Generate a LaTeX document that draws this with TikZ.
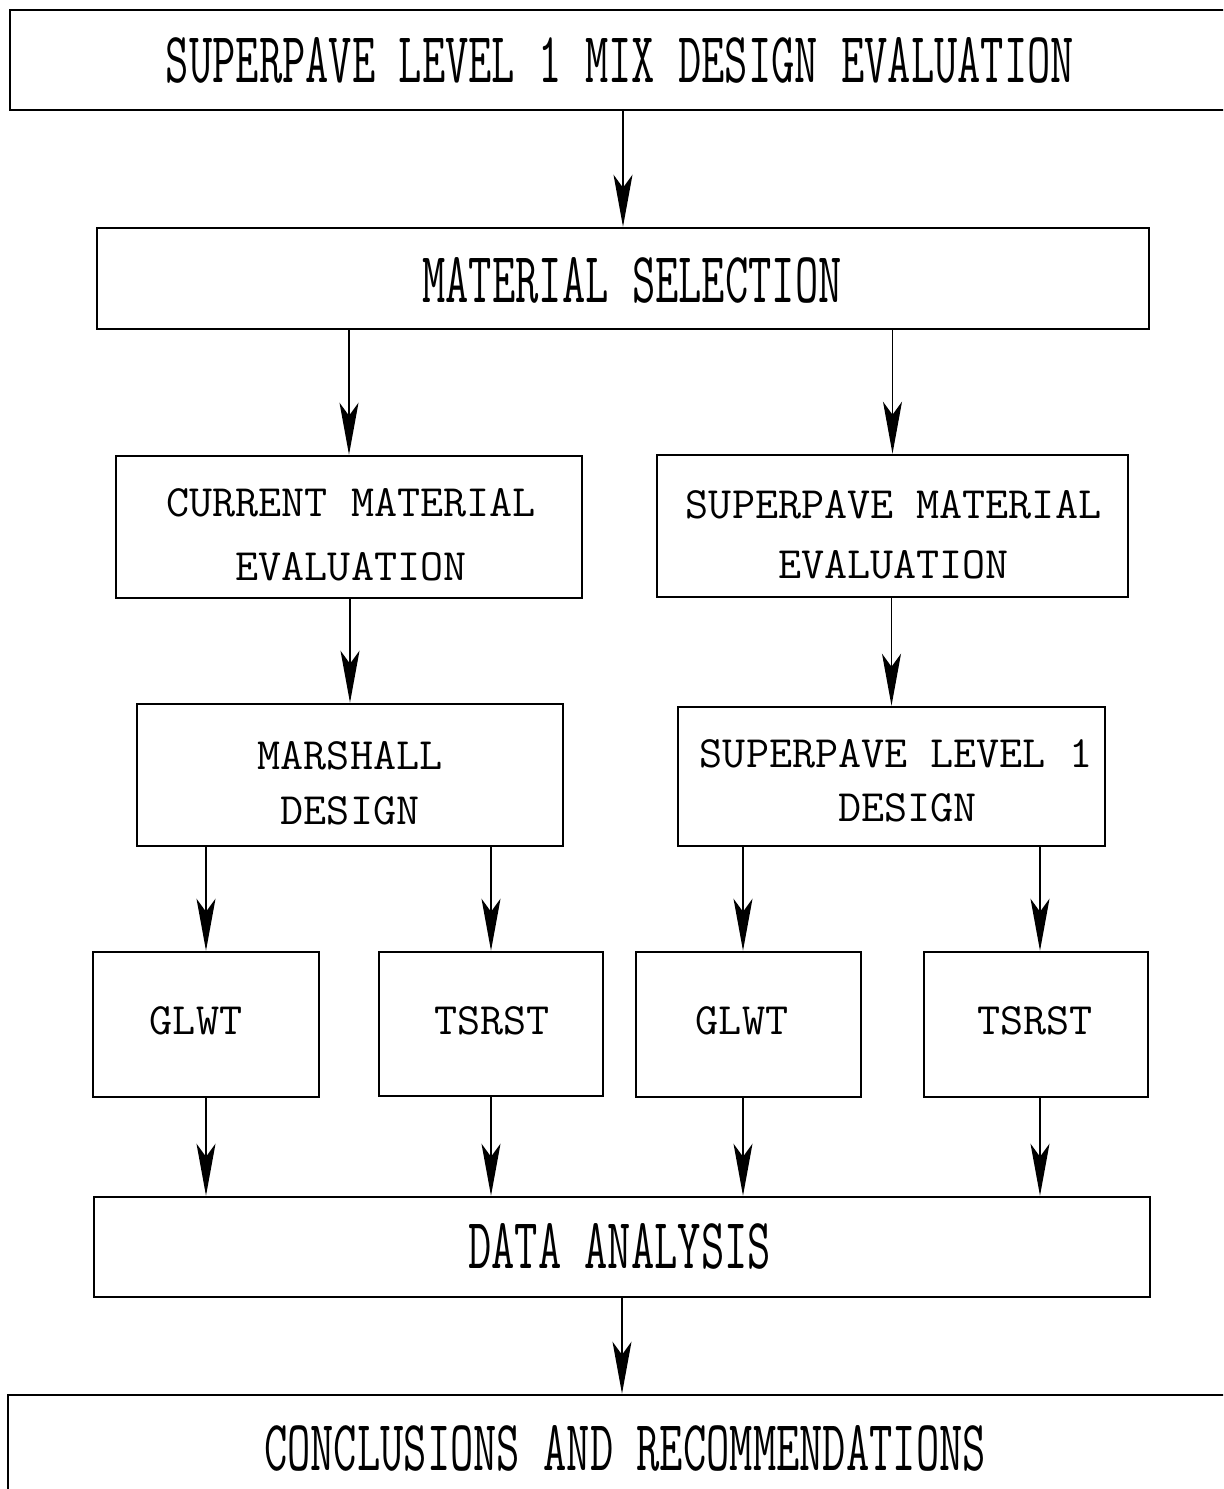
\documentclass[tikz,border=0pt]{standalone}
\usepackage{graphicx}
\usetikzlibrary{arrows.meta}

% horizontally condensed typewriter text for the wide banner boxes
\newcommand\cndtext[1]{\scalebox{0.628}[1]{#1}}

\tikzset{
  box/.style={draw, rectangle, line width=1.3pt, inner sep=0pt},
  plain/.style={inner sep=0pt, align=center,
    font=\ttfamily\fontsize{22.4}{#1}\selectfont},
  plain/.default=30,
  banner/.style={inner sep=0pt, font=\ttfamily\fontsize{36}{40}\selectfont},
  arr/.style={line width=0.7pt,
    -{Stealth[length=26pt,width=9.5pt,inset=6.5pt]}},
}

\begin{document}
\begin{tikzpicture}[x=0.5pt, y=-0.5pt]
\useasboundingbox (0,0) rectangle (1223,1489);
\clip (0,0) rectangle (1223,1489);

% boxes
\node[box, minimum width=615pt, minimum height=50pt]   (top)  at (625,60) {};
\node[box, minimum width=526pt, minimum height=50.5pt] (sel)  at (623,278.5) {};
\node[box, minimum width=233pt, minimum height=71pt]   (cur)  at (349,527) {};
\node[box, minimum width=235.5pt, minimum height=71pt] (spm)  at (892.5,526) {};
\node[box, minimum width=213pt, minimum height=71pt]   (mar)  at (350,775) {};
\node[box, minimum width=213.5pt, minimum height=69.5pt] (spd) at (891.5,776.5) {};
\node[box, minimum width=113pt, minimum height=72.5pt] (g1)   at (206,1024.5) {};
\node[box, minimum width=112pt, minimum height=72pt]   (t1)   at (491,1024) {};
\node[box, minimum width=112.5pt, minimum height=72.5pt] (g2) at (748.5,1024.5) {};
\node[box, minimum width=112pt, minimum height=72.5pt] (t2)   at (1036,1024.5) {};
\node[box, minimum width=528pt, minimum height=50pt]   (data) at (622,1247) {};
\node[box, minimum width=616pt, minimum height=53pt]   (conc) at (624,1448) {};

% labels
\node[banner] (topT) at (620,60) {\cndtext{SUPERPAVE LEVEL 1 MIX DESIGN EVALUATION}};
\node[banner] (selT) at (632,280) {\cndtext{MATERIAL SELECTION}};
\node[plain=32] (curT) at (351,535) {CURRENT MATERIAL\\EVALUATION};
\node[plain=30] (spmT) at (893.5,535) {SUPERPAVE MATERIAL\\EVALUATION};
\node[plain=27.5] (marT) at (350,783) {MARSHALL\\DESIGN};
\node[plain=27, align=left] (spdT) at (896,781) {SUPERPAVE LEVEL 1\\\hphantom{SUPERP}DESIGN};
\node[plain] (g1T) at (196,1021) {GLWT};
\node[plain] (t1T) at (492,1021) {TSRST};
\node[plain] (g2T) at (742,1021) {GLWT};
\node[plain] (t2T) at (1035,1021) {TSRST};
\node[banner] (dataT) at (619.5,1246.5) {\cndtext{DATA ANALYSIS}};
\node[banner] (concT) at (625,1448) {\cndtext{CONCLUSIONS AND RECOMMENDATIONS}};

% entry points of the arrows on the right-hand test boxes
\coordinate (g2in)  at ([xshift=-2.75pt]g2.north);
\coordinate (t2in)  at ([xshift=2pt]t2.north);
\coordinate (g2out) at ([xshift=-2.75pt]g2.south);
\coordinate (t2out) at ([xshift=2pt]t2.south);

% connectors
\draw[arr] (top.south -| sel.north) -- (sel.north);
\draw[arr] (sel.south -| cur.north) -- (cur.north);
\draw[arr] (sel.south -| spm.north) -- (spm.north);
\draw[arr] (cur.south -| mar.north) -- (mar.north);
\draw[arr] (spm.south -| spd.north) -- (spd.north);
\draw[arr] (mar.south -| g1.north) -- (g1.north);
\draw[arr] (mar.south -| t1.north) -- (t1.north);
\draw[arr] (spd.south -| g2in) -- (g2in);
\draw[arr] (spd.south -| t2in) -- (t2in);
\draw[arr] (g1.south) -- (g1.south |- data.north);
\draw[arr] (t1.south) -- (t1.south |- data.north);
\draw[arr] (g2out) -- (g2out |- data.north);
\draw[arr] (t2out) -- (t2out |- data.north);
\draw[arr] (data.south) -- (data.south |- conc.north);
\end{tikzpicture}
\end{document}
